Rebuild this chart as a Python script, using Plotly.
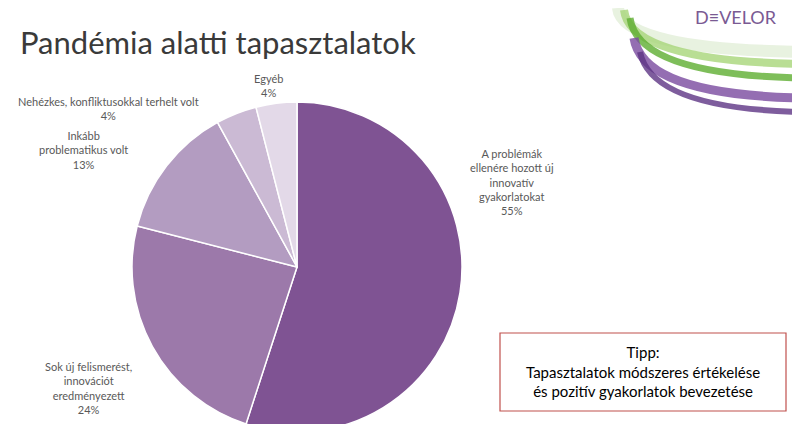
import plotly.graph_objects as go

W, H = 800, 424

labels = ['A problémák<br>ellenére hozott új<br>innovatív<br>gyakorlatokat',
          'Sok új felismerést,<br>innovációt<br>eredményezett',
          'Inkább<br>problematikus volt',
          'Nehézkes, konfliktusokkal terhelt volt',
          'Egyéb']
values = [55, 24, 13, 4, 4]
colors = ['#7f5393', '#9c79aa', '#b39cc1', '#cbbad4', '#e3d9e8']

# label anchor points in pixels (x, y)
label_pos = [(512, 182), (88, 388), (83, 150), (108, 108), (268, 85)]

OFF = 8  # page body margin


def px(x, y):
    return (x - OFF) / W, 1 - (y - OFF) / H


fig = go.Figure()

cx, cy, r = 297, 268, 166
x0, y1 = px(cx - r, cy - r)
x1, y0 = px(cx + r, cy + r)
fig.add_trace(go.Pie(labels=labels, values=values, sort=False, direction='clockwise',
                     rotation=0, marker=dict(colors=colors, line=dict(color='white', width=1.5)),
                     textinfo='none', hoverinfo='label+percent', showlegend=False,
                     domain=dict(x=[x0, x1], y=[max(y0, 0), y1])))

for lab, v, (lx, ly) in zip(labels, values, label_pos):
    ax, ay = px(lx, ly)
    fig.add_annotation(x=ax, y=ay, xref='paper', yref='paper', showarrow=False,
                       xanchor='center', yanchor='middle',
                       text=f'{lab}<br>{v}%', align='center',
                       font=dict(family='Lato', size=11, color='#595959'))

tx, ty = px(18, 42)
fig.add_annotation(x=tx, y=ty, xref='paper', yref='paper',
                   xanchor='left', yanchor='middle', showarrow=False,
                   text='Pandémia alatti tapasztalatok',
                   font=dict(family='Lato', size=31, color='#3a3a3a'))

# tipp box
bx0, by1 = px(500, 333)
bx1, by0 = px(786, 411)
fig.add_shape(type='rect', xref='paper', yref='paper', x0=bx0, x1=bx1, y0=by0, y1=by1,
              line=dict(color='#c0504d', width=1.2), fillcolor='white')
fig.add_annotation(x=(bx0 + bx1) / 2, y=(by0 + by1) / 2, xref='paper', yref='paper',
                   xanchor='center', yanchor='middle',
                   showarrow=False, align='center',
                   text='Tipp:<br>Tapasztalatok módszeres értékelése<br>és pozitív gyakorlatok bevezetése',
                   font=dict(family='Lato', size=15, color='#000000'))


# logo swirl
def path(pts):
    (a, b), (c, d), (e, f) = [px(*p) for p in pts]
    return f'M {a},{b} Q {c},{d} {e},{f}'


bands = [
    ([(618, 8), (622, 50), (808, 52)], '#e3efd9', 12),
    ([(624, 10), (630, 62), (808, 64)], '#a8d67a', 8),
    ([(630, 18), (638, 76), (808, 78)], '#5fae32', 7),
    ([(634, 38), (643, 96), (808, 98)], '#7a4aa0', 9),
    ([(640, 52), (652, 110), (808, 112)], '#5e3585', 6),
]
for pts, col, w in bands:
    fig.add_shape(type='path', xref='paper', yref='paper', path=path(pts),
                  line=dict(color=col, width=w), opacity=0.8)

lx, ly = px(736, 17)
fig.add_annotation(x=lx, y=ly, xref='paper', yref='paper', showarrow=False,
                   xanchor='center', yanchor='middle',
                   text='D\u2261VELOR', font=dict(family='Lato', size=18, color='#7a5a93'))

fig.update_layout(width=W, height=H, margin=dict(l=0, r=0, t=0, b=0),
                  paper_bgcolor='white', plot_bgcolor='white')
fig.write_html('out.html')
